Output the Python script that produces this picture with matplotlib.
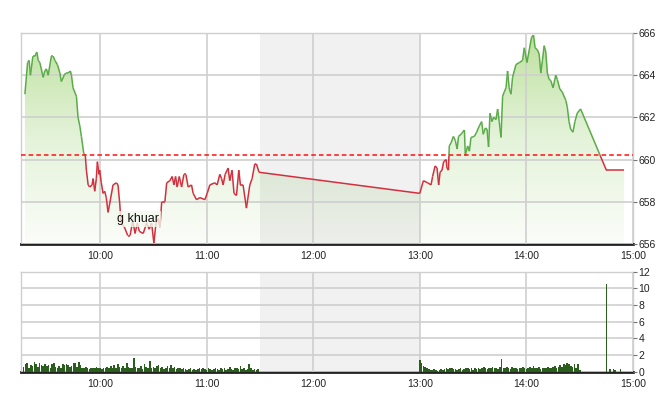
import numpy as np
import matplotlib
matplotlib.use('Agg')
import matplotlib.pyplot as plt
from matplotlib.collections import LineCollection
from matplotlib.colors import LinearSegmentedColormap

plt.rcParams['font.family'] = ['Liberation Sans Narrow', 'Liberation Sans', 'DejaVu Sans']

# price trace, minutes after 09:00
price_t = [17.7, 19.2, 20.1, 20.8, 22.2, 23.3, 24.4, 25.2, 26.1, 28.0, 28.9, 29.8, 30.8, 32.6,
           33.6, 34.6, 36.0, 37.4, 38.2, 39.8, 40.7, 42.0, 43.3, 43.9, 44.8, 46.7, 47.6, 48.6,
           49.5, 50.8, 51.7, 52.3, 53.3, 54.2, 55.5, 56.1, 57.0, 57.9, 58.5, 59.4, 59.8, 60.7,
           61.7, 62.6, 63.5, 64.5, 65.4, 67.3, 69.2, 70.1, 71.1, 71.8, 73.7, 75.6, 76.9, 78.4,
           79.7, 81.0, 82.1, 84.3, 86.2, 87.7, 89.0, 90.3, 91.5, 92.8, 93.7, 94.7, 96.5, 97.5,
           99.3, 100.6, 101.6, 102.5, 103.4, 104.6, 105.9, 107.2, 108.3, 109.6, 111.5, 112.4,
           114.3, 116.2, 119.0, 120.3, 121.8, 124.6, 125.9, 127.4, 128.4, 129.3, 130.4, 132.1,
           133.0, 134.3, 135.4, 136.8, 138.1, 139.0, 140.5, 142.4, 144.3, 145.6, 147.1, 148.0,
           149.5,
           240.0, 242.0, 244.4, 246.3, 247.2, 248.6, 249.7, 250.6, 251.4, 252.5, 253.4, 254.8,
           255.3, 256.1, 256.6, 257.6, 258.9, 260.0, 261.0, 261.8, 263.2, 264.1, 265.1, 265.6,
           266.9, 267.9, 268.8, 270.7, 272.0, 273.5, 274.8, 275.7, 276.9, 277.8, 278.7, 279.5,
           280.6, 281.5, 282.9, 283.8, 284.7, 285.7, 286.6, 287.5, 288.5, 289.4, 290.3, 291.3,
           292.2, 294.1, 296.0, 297.8, 298.8, 300.3, 301.6, 302.9, 304.0, 304.9, 306.2, 307.2,
           308.1, 309.0, 310.0, 310.9, 311.8, 312.8, 313.7, 315.0, 316.5, 317.4, 318.8, 320.2,
           322.2, 323.0, 324.0, 324.9, 326.2, 327.3, 328.6, 330.5,
           345.0, 355.0]
price_v = [663.1, 664.6, 664.7, 664.0, 664.9, 664.9, 665.1, 664.7, 664.6, 663.9, 664.2, 664.3,
           664.0, 664.9, 664.9, 664.7, 664.5, 664.1, 663.7, 664.0, 664.1, 664.1, 664.2, 664.0,
           663.4, 663.0, 662.0, 661.6, 661.1, 660.3, 660.2, 659.5, 658.8, 658.7, 658.8, 659.1,
           658.5, 659.1, 659.9, 659.3, 659.5, 658.9, 658.4, 658.5, 658.2, 657.5, 657.9, 658.8,
           658.9, 658.8, 657.9, 657.0, 656.8, 656.4, 656.4, 657.1, 656.5, 657.0, 656.6, 656.5,
           657.0, 656.7, 657.0, 656.05, 657.0, 657.2, 656.8, 658.0, 658.0, 658.9, 659.0, 659.2,
           658.8, 659.2, 658.7, 659.2, 658.7, 659.3, 659.3, 658.7, 658.8, 658.4, 658.1, 658.2,
           658.1, 658.4, 658.8, 658.9, 658.8, 659.3, 659.1, 658.8, 659.3, 659.6, 659.0, 659.5,
           658.4, 658.3, 659.5, 658.8, 658.8, 657.7, 658.8, 659.1, 659.8, 659.8, 659.4,
           658.4, 659.0, 658.9, 658.8, 659.2, 659.7, 659.6, 658.8, 659.4, 659.5, 659.9, 660.0,
           659.6, 659.5, 660.65, 660.8, 661.1, 660.9, 660.5, 661.1, 661.2, 661.3, 661.4, 660.2,
           660.65, 660.4, 661.05, 661.1, 661.3, 661.6, 661.8, 661.2, 661.5, 661.45, 660.6, 662.2,
           661.8, 662.0, 661.9, 662.4, 661.8, 661.05, 663.0, 663.2, 663.4, 664.2, 663.4, 663.1,
           663.9, 664.5, 664.6, 664.7, 665.3, 664.6, 665.2, 665.8, 665.9, 665.3, 665.2, 665.0,
           664.1, 664.7, 665.4, 665.1, 664.1, 663.8, 663.75, 663.4, 664.0, 663.8, 663.35, 663.2,
           662.8, 662.5, 661.8, 661.45, 661.3, 661.8, 662.2, 662.4,
           659.5, 659.5]
ref_price = 660.2

# volume per minute
vol_am_start = 17   # 09:17
vol_am = [0.6, 0.9, 1.1, 0.5, 0.8, 0.7, 1.2, 0.9, 0.6, 1.0,
          0.8, 0.7, 0.9, 0.7, 0.8, 0.5, 0.9, 1.0, 0.6, 0.4,
          0.7, 0.5, 0.9, 0.8, 0.9, 0.8, 0.6, 0.7, 1.0, 1.1,
          0.6, 1.2, 0.8, 0.5, 0.4, 0.6, 0.5, 0.3, 0.4, 0.5,
          0.4, 0.6, 0.5, 0.4, 0.3, 0.5, 0.4, 0.6, 0.5, 0.7,
          0.4, 0.8, 0.5, 0.9, 0.6, 0.4, 0.7, 0.5, 1.0, 0.6,
          0.4, 0.5, 1.6, 0.6, 0.4, 0.5, 0.7, 0.3, 0.9, 0.6,
          0.5, 1.3, 0.4, 0.6, 0.5, 0.7, 0.8, 0.4, 0.6, 0.3,
          0.5, 0.7, 0.4, 0.8, 0.5, 0.6, 0.3, 0.4, 0.5, 0.3,
          0.4, 0.3, 0.2, 0.3, 0.4, 0.2, 0.3, 0.2, 0.3, 0.4,
          0.3, 0.5, 0.3, 0.2, 0.4, 0.3, 0.2, 0.3, 0.4, 0.3,
          0.2, 0.4, 0.3, 0.5, 0.2, 0.3, 0.6, 0.3, 0.2, 0.4,
          0.5, 0.3, 0.7, 0.3, 0.4, 0.2, 0.3, 0.9, 0.4, 0.2,
          0.3, 0.2, 0.3]
vol_pm_start = 240  # 13:00
vol_pm = [1.4, 1.0, 0.7, 0.6, 0.5, 0.3, 0.2, 0.2, 0.3, 0.2,
          0.1, 0.2, 0.3, 0.2, 0.3, 0.4, 0.3, 0.5, 0.4, 0.3,
          0.3, 0.2, 0.3, 0.4, 0.2, 0.3, 0.5, 0.4, 0.3, 0.4,
          0.2, 0.5, 0.3, 0.4, 0.3, 0.5, 0.6, 0.4, 0.3, 0.5,
          0.4, 0.6, 0.5, 0.4, 0.3, 0.6, 1.5, 0.5, 0.4, 0.6,
          0.5, 0.3, 0.6, 0.4, 0.5, 0.3, 0.4, 0.5, 0.6, 0.4,
          0.3, 0.5, 0.6, 0.4, 0.7, 0.5, 0.4, 0.6, 0.3, 0.4,
          0.5, 0.4, 0.6, 0.5, 0.4, 0.6, 0.7, 0.5, 0.6, 0.8,
          0.6, 0.9, 0.8, 1.0, 0.9, 0.7, 0.6, 0.9, 0.5, 0.9,
          0.2]
vol_close_t = [345, 347, 349, 350, 353]
vol_close = [10.5, 0.3, 0.3, 0.2, 0.3]

hour_ticks = [60, 120, 180, 240, 300, 360]
hour_labels = ['10:00', '11:00', '12:00', '13:00', '14:00', '15:00']
lunch = (150, 240)
x_range = (15.5, 359.5)

GREEN = '#5aac48'
RED = '#d2303e'
GRID = '#cfcfcf'
TXT = '#222222'

fig = plt.figure(figsize=(6.6, 4.12), dpi=100)
ax = fig.add_axes([21 / 660, 1 - 244 / 412, 612 / 660, 211 / 412])
axv = fig.add_axes([21 / 660, 1 - 371.7 / 412, 612 / 660, 100 / 412])

t = np.array(price_t)
p = np.array(price_v)

# gradient fill under the price line
poly = ax.fill_between(t, p, 656, facecolor='none', edgecolor='none')
cmap = LinearSegmentedColormap.from_list('g', ['#fbfdf9', '#e4f3da', '#bfe19f'])
grad = np.linspace(0, 1, 256).reshape(-1, 1)
im = ax.imshow(grad, cmap=cmap, origin='lower', aspect='auto',
               extent=[x_range[0], x_range[1], 656, 666], zorder=1)
im.set_clip_path(poly.get_paths()[0], transform=ax.transData)

# split the line where it crosses the reference price
tt, pp = [t[0]], [p[0]]
for i in range(1, len(t)):
    a, b = p[i - 1] - ref_price, p[i] - ref_price
    if a * b < 0:
        f = a / (a - b)
        tt.append(t[i - 1] + f * (t[i] - t[i - 1]))
        pp.append(ref_price)
    tt.append(t[i])
    pp.append(p[i])
tt, pp = np.array(tt), np.array(pp)
segs = [[(tt[i], pp[i]), (tt[i + 1], pp[i + 1])] for i in range(len(tt) - 1)]
cols = [GREEN if (pp[i] + pp[i + 1]) / 2 >= ref_price else RED for i in range(len(tt) - 1)]
ax.add_collection(LineCollection(segs, colors=cols, linewidths=1.1, zorder=4))

ax.axhline(ref_price, color='#ff1010', lw=1.1, ls=(0, (3, 2)), zorder=5)

ax.text(69.5, 657.2, 'g khuar', fontsize=9, color='#111111', family=['Liberation Sans', 'DejaVu Sans'],
        va='center', ha='left', zorder=6,
        bbox=dict(boxstyle='square,pad=0.15', fc='#f3f9ee', ec='none', alpha=0.8))

# volume bars
vt = list(np.arange(len(vol_am)) + vol_am_start) + list(np.arange(len(vol_pm)) + vol_pm_start) + vol_close_t
vv = vol_am + vol_pm + vol_close
axv.bar(vt, vv, width=0.9, color='#2a5e1c', zorder=3, linewidth=0)

for a, ylim, yt in [(ax, (656, 666), range(656, 667, 2)), (axv, (0, 12), range(0, 13, 2))]:
    a.set_xlim(*x_range)
    a.set_ylim(*ylim)
    a.axvspan(*lunch, color='#000000', alpha=0.055, lw=0, zorder=2)
    a.set_xticks(hour_ticks)
    a.set_xticklabels(hour_labels)
    a.set_yticks(list(yt))
    a.grid(True, color=GRID, lw=1.2, zorder=3)
    a.set_axisbelow(False)
    a.yaxis.tick_right()
    a.tick_params(axis='y', length=3, width=0.8, color='#777777', pad=1, labelsize=7.5, labelcolor=TXT)
    a.tick_params(axis='x', length=0, pad=5, labelsize=7.5, labelcolor=TXT)
    for s in ['top', 'left', 'right']:
        a.spines[s].set_color(GRID)
        a.spines[s].set_linewidth(1.0)
    a.spines['bottom'].set_color('#222222')
    a.spines['bottom'].set_linewidth(2.0)
    for gl in a.get_xgridlines() + a.get_ygridlines():
        gl.set_zorder(3)

fig.savefig('out.png', dpi=100)
